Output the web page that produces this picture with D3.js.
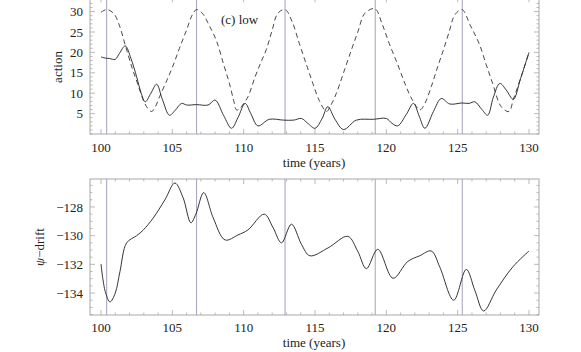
<!DOCTYPE html>
<html>
<head>
<meta charset="utf-8">
<script src="https://cdn.jsdelivr.net/npm/d3@7"></script>
<style>
  body { margin: 0; background: #fff; }
  svg text { font-family: "Times New Roman", "Liberation Serif", serif; fill: #222; }
</style>
</head>
<body>
<script>
// action (solid curve)
const actionTime = [100.0, 100.3, 100.6, 101.0, 101.3, 101.7, 102.1, 102.5, 102.8, 103.1, 103.5, 103.9, 104.3, 104.8, 105.2, 105.65, 106.0, 106.7, 107.5, 108.0, 108.6, 109.15, 109.6, 110.1, 110.5, 111.0, 111.8, 112.8, 113.5, 114.05, 114.5, 115.0, 115.5, 115.9, 116.4, 117.0, 117.9, 119.1, 120.0, 120.4, 120.8, 121.4, 121.9, 122.3, 122.7, 123.3, 123.85, 124.45, 125.3, 125.8, 126.2, 126.7, 127.1, 127.5, 127.95, 128.4, 128.9, 129.4, 130.0];
const actionValues = [18.9, 18.6, 18.5, 18.3, 19.8, 21.6, 18.5, 14.0, 10.2, 7.9, 10.0, 12.2, 8.5, 4.6, 5.8, 7.5, 7.1, 7.2, 7.1, 8.3, 4.5, 1.4, 4.0, 7.5, 5.0, 2.0, 3.6, 3.4, 3.4, 3.8, 2.6, 1.4, 3.8, 6.7, 3.6, 1.1, 3.4, 3.6, 3.8, 2.6, 2.0, 4.8, 7.5, 4.4, 1.4, 5.5, 8.7, 7.35, 7.6, 7.5, 7.9, 6.0, 4.6, 9.0, 12.4, 10.8, 8.5, 13.5, 20.0];

// dashed curve
const dashedTime = [100.0, 100.4, 100.9, 101.3, 101.7, 102.2, 102.6, 103.0, 103.3, 103.55, 103.8, 104.1, 104.6, 105.0, 105.5, 106.0, 106.4, 106.7, 107.1, 107.6, 108.1, 108.6, 109.0, 109.3, 109.5, 109.75, 110.0, 110.3, 110.8, 111.2, 111.6, 112.0, 112.4, 112.9, 113.4, 113.9, 114.4, 114.85, 115.3, 115.8, 116.1, 116.5, 117.0, 117.55, 118.0, 118.5, 119.2, 119.7, 120.2, 120.8, 121.3, 121.8, 122.35, 122.7, 123.15, 123.6, 124.0, 124.4, 124.8, 125.3, 125.9, 126.5, 127.0, 127.45, 128.05, 128.6, 128.9, 129.4, 130.0];
const dashedValues = [29.8, 30.5, 29.5, 26.5, 21.8, 16.0, 12.0, 8.0, 6.2, 5.5, 6.6, 9.1, 13.0, 16.3, 21.0, 25.5, 29.2, 30.5, 29.6, 26.5, 22.8, 17.0, 12.4, 8.2, 5.9, 6.3, 7.5, 9.1, 14.0, 17.5, 20.8, 25.5, 29.6, 30.5, 27.5, 22.2, 17.0, 12.4, 8.2, 5.5, 7.0, 10.0, 15.0, 20.6, 25.0, 29.6, 30.7, 27.0, 22.2, 17.0, 12.4, 8.5, 5.9, 7.5, 11.6, 16.5, 20.6, 25.0, 29.2, 30.5, 26.5, 22.2, 17.0, 12.4, 6.7, 5.5, 8.5, 13.5, 20.0];

// psi-drift
const driftTime = [100.0, 100.3, 100.63, 101.0, 101.33, 101.8, 102.5, 102.97, 103.66, 104.48, 105.18, 105.76, 106.3, 106.65, 107.2, 107.87, 108.7, 109.6, 110.3, 111.44, 112.07, 112.65, 113.35, 114.05, 114.64, 115.92, 117.3, 118.0, 118.6, 119.4, 120.47, 121.5, 122.34, 123.15, 123.74, 124.72, 125.6, 126.2, 126.82, 127.7, 128.87, 130.0];
const driftValues = [-131.97, -133.9, -134.62, -134.0, -132.5, -130.5, -130.0, -129.6, -128.77, -127.5, -126.33, -127.37, -129.1, -128.5, -127.0, -128.77, -130.3, -129.95, -129.6, -128.5, -129.46, -130.5, -129.2, -130.6, -131.4, -130.85, -130.05, -131.1, -132.3, -130.95, -132.97, -131.8, -131.4, -131.07, -132.17, -134.5, -132.35, -133.8, -135.25, -133.8, -132.17, -131.07];

// vertical marker lines
const markerTimes = [100.4, 106.7, 112.9, 119.22, 125.32];

// ticks
const xTicks = [100, 105, 110, 115, 120, 125, 130];
const actionTicks = [5, 10, 15, 20, 25, 30];
const driftTicks = [-128, -130, -132, -134];

const W = 581, H = 352;
const svg = d3.select("body").append("svg")
    .attr("width", W).attr("height", H);

const x = d3.scaleLinear().domain([99.23, 130.7]).range([90, 539]);
const yTop = d3.scaleLinear().domain([0, 33.5]).range([134, -2.7]);
const yBot = d3.scaleLinear().domain([-135.53, -126.05]).range([315, 179]);

const frameColor = "#a8a8a8";
const markerColor = "#a2a2ba";

function panel(y, yMajor, yMinorStep, xLabelY, titleY) {
    const g = svg.append("g");
    const [y0, y1] = y.domain();
    const top = y.range()[1], bot = y.range()[0];
    const left = x.range()[0], right = x.range()[1];

    // marker lines
    g.selectAll("line.marker").data(markerTimes).join("line")
        .attr("x1", d => x(d)).attr("x2", d => x(d))
        .attr("y1", top).attr("y2", bot)
        .attr("stroke", markerColor).attr("stroke-width", 1);

    // frame
    g.append("rect")
        .attr("x", left).attr("y", top)
        .attr("width", right - left).attr("height", bot - top)
        .attr("fill", "none").attr("stroke", frameColor).attr("stroke-width", 1);

    // x ticks (major + minor), inward on bottom and top
    const xMinor = d3.range(100, 131, 1);
    const xt = g.append("g").attr("stroke", frameColor).attr("stroke-width", 0.8);
    xMinor.forEach(t => {
        const len = xTicks.includes(t) ? 5 : 2.5;
        xt.append("line").attr("x1", x(t)).attr("x2", x(t)).attr("y1", bot).attr("y2", bot - len);
        xt.append("line").attr("x1", x(t)).attr("x2", x(t)).attr("y1", top).attr("y2", top + len);
    });

    // y ticks
    const yMinor = d3.range(Math.ceil(y0 / yMinorStep) * yMinorStep, y1, yMinorStep);
    yMinor.forEach(v => {
        const len = yMajor.some(m => Math.abs(m - v) < 1e-6) ? 5 : 2.5;
        xt.append("line").attr("x1", left).attr("x2", left + len).attr("y1", y(v)).attr("y2", y(v));
        xt.append("line").attr("x1", right).attr("x2", right - len).attr("y1", y(v)).attr("y2", y(v));
    });

    // tick labels
    g.selectAll("text.xt").data(xTicks).join("text")
        .attr("x", d => x(d)).attr("y", xLabelY)
        .attr("text-anchor", "middle").attr("font-size", 13)
        .text(d => d);
    g.selectAll("text.yt").data(yMajor).join("text")
        .attr("x", 83).attr("y", d => y(d)).attr("dy", "0.35em")
        .attr("text-anchor", "end").attr("font-size", 13)
        .text(d => d < 0 ? "\u2212" + Math.abs(d) : d);

    g.append("text")
        .attr("x", 314).attr("y", titleY)
        .attr("text-anchor", "middle").attr("font-size", 13)
        .text("time (years)");
    return g;
}

const gTop = panel(yTop, actionTicks, 1, 152.3, 167);
const gBot = panel(yBot, driftTicks, 0.5, 331.5, 346.5);

// curves
const lineTop = d3.line().x(d => x(d[0])).y(d => yTop(d[1])).curve(d3.curveCatmullRom.alpha(0.5));
const lineBot = d3.line().x(d => x(d[0])).y(d => yBot(d[1])).curve(d3.curveCatmullRom.alpha(0.5));

gTop.append("path")
    .datum(dashedTime.map((t, i) => [t, dashedValues[i]]))
    .attr("d", lineTop)
    .attr("fill", "none").attr("stroke", "#333").attr("stroke-width", 0.9)
    .attr("stroke-dasharray", "5,3.5");

gTop.append("path")
    .datum(actionTime.map((t, i) => [t, actionValues[i]]))
    .attr("d", lineTop)
    .attr("fill", "none").attr("stroke", "#2a2a2a").attr("stroke-width", 0.95);

gBot.append("path")
    .datum(driftTime.map((t, i) => [t, driftValues[i]]))
    .attr("d", lineBot)
    .attr("fill", "none").attr("stroke", "#2a2a2a").attr("stroke-width", 0.95);

// labels
svg.append("text")
    .attr("transform", "translate(62,67) rotate(-90)")
    .attr("text-anchor", "middle").attr("font-size", 13)
    .text("action");

const psi = svg.append("text")
    .attr("transform", "translate(44,247) rotate(-90)")
    .attr("text-anchor", "middle").attr("font-size", 13);
psi.append("tspan").attr("font-style", "italic").text("\u03c8");
psi.append("tspan").text("\u2212drift");

svg.append("text")
    .attr("x", 221).attr("y", 24)
    .attr("font-size", 13)
    .text("(c) low");
</script>
</body>
</html>
